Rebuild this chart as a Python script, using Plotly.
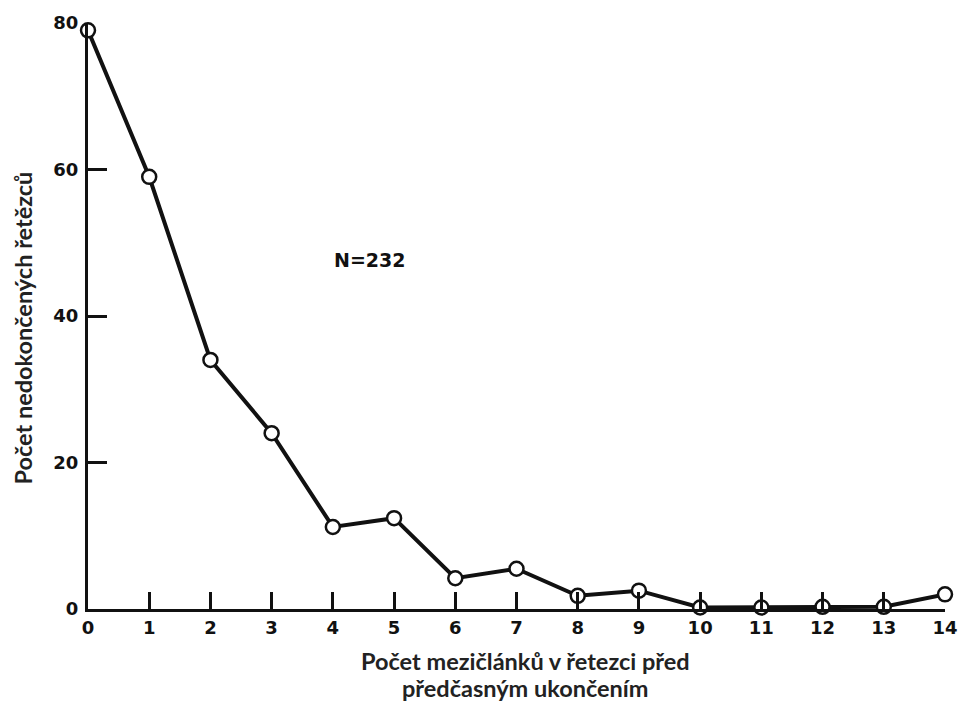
import plotly.graph_objects as go

# Data
mezi_clanky = list(range(15))
pocet_retezcu = [79, 59, 34, 24, 11.2, 12.4, 4.2, 5.5, 1.8, 2.5, 0.2, 0.2, 0.3, 0.3, 2.0]
y_ticks = [0, 20, 40, 60, 80]
x_ticks = list(range(15))

x_title_lines = ["Počet mezičlánků v řetezci před", "předčasným ukončením"]
y_title = "Počet nedokončených řetězců"
note = "N=232"

fig = go.Figure()
fig.add_trace(go.Scatter(
    x=mezi_clanky, y=pocet_retezcu, mode="lines+markers",
    line=dict(color="#111111", width=4),
    marker=dict(symbol="circle", size=14, color="white",
                line=dict(color="#111111", width=2.5)),
    cliponaxis=False, showlegend=False,
))

tick_font = dict(family="DejaVu Sans, sans-serif", size=18, color="#111111", weight="bold")

fig.update_xaxes(
    range=[0, 14], tickvals=x_ticks, ticktext=[str(v) for v in x_ticks],
    showline=True, linecolor="#111111", linewidth=3,
    ticks="inside", ticklen=17, tickwidth=3, tickcolor="#111111",
    showgrid=False, zeroline=False, tickfont=tick_font,
)
fig.update_yaxes(
    range=[0, 80], tickvals=y_ticks, ticktext=[str(v) for v in y_ticks],
    showline=True, linecolor="#111111", linewidth=3,
    ticks="inside", ticklen=19, tickwidth=3, tickcolor="#111111",
    showgrid=False, zeroline=False, tickfont=tick_font, ticklabelstandoff=3,
)

title_font = dict(family="Lato, Carlito, sans-serif", size=23.5, color="#222222", weight="bold")

for line_text, ypos in zip(x_title_lines, [-0.088, -0.134]):
    fig.add_annotation(
        text=line_text, xref="paper", yref="paper", x=0.51, y=ypos,
        xanchor="center", yanchor="middle", showarrow=False, font=title_font,
    )
fig.add_annotation(
    text=y_title, xref="paper", yref="paper", x=-0.076, y=0.48,
    xanchor="center", yanchor="middle", textangle=-90, showarrow=False, font=title_font,
)
fig.add_annotation(
    text=note, xref="x", yref="y", x=4.6, y=47.6,
    xanchor="center", yanchor="middle", showarrow=False,
    font=dict(family="DejaVu Sans, sans-serif", size=19, color="#111111", weight="bold"),
)

fig.update_layout(
    width=970, height=702,
    margin=dict(l=88, r=15, t=21, b=93),
    paper_bgcolor="white", plot_bgcolor="white",
)

fig.write_html(
    "out.html",
    config={"displayModeBar": False},
    post_script="document.body.style.margin='0';document.body.style.overflow='hidden';",
)
